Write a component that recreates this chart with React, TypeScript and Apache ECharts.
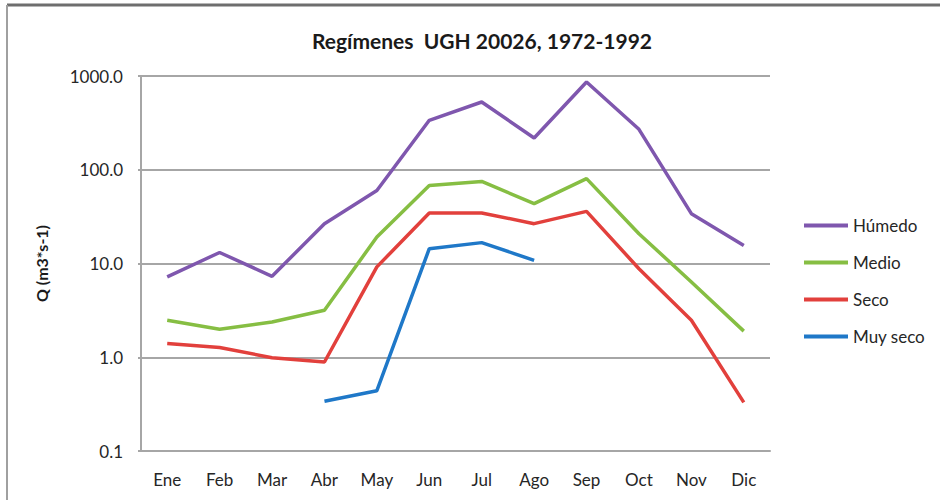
import React, { useEffect, useRef } from "react";
import * as echarts from "echarts";

const months = ["Ene", "Feb", "Mar", "Abr", "May", "Jun", "Jul", "Ago", "Sep", "Oct", "Nov", "Dic"];
const humedo = [7.2, 13.1, 7.3, 26.6, 60, 337, 528, 218, 863, 270, 34, 15.6];
const medio = [2.48, 1.99, 2.38, 3.17, 19.2, 68, 75, 43.5, 80.5, 20.8, 6.35, 1.9];
const seco = [1.4, 1.27, 0.99, 0.89, 9.2, 34.6, 34.6, 26.6, 36, 8.8, 2.48, 0.33];
const muySeco = [null, null, null, 0.34, 0.44, 14.4, 16.7, 10.8, null, null, null, null];
const seriesNames = ["Húmedo", "Medio", "Seco", "Muy seco"];
const colors = ["#7F57AE", "#86BE43", "#E2403C", "#1F78C8"];

const FONT = "Lato, 'Noto Sans', sans-serif";

export default function App() {
  const ref = useRef<HTMLDivElement>(null);
  useEffect(() => {
    if (!ref.current) return;
    const chart = echarts.init(ref.current, undefined, { renderer: "svg" });
    const dataSets = [humedo, medio, seco, muySeco];
    chart.setOption({
      animation: false,
      backgroundColor: "#ffffff",
      textStyle: { fontFamily: FONT },
      title: {
        text: "Regímenes  UGH 20026, 1972-1992",
        left: 477,
        top: 25,
        textAlign: "center",
        textStyle: { fontFamily: FONT, fontSize: 21, fontWeight: "bold", color: "#1a1a1a" },
      },
      graphic: [
        { type: "line", shape: { x1: 7, y1: 5, x2: 940, y2: 5 }, style: { stroke: "#6e6e6e", lineWidth: 3 } },
        { type: "line", shape: { x1: 7, y1: 5, x2: 7, y2: 500 }, style: { stroke: "#a0a0a0", lineWidth: 2 } },
      ],
      legend: {
        orient: "vertical",
        left: 799,
        top: 212,
        itemWidth: 44,
        itemHeight: 4,
        itemGap: 20,
        icon: "rect",
        data: seriesNames,
        textStyle: { fontFamily: FONT, fontSize: 17, color: "#262626", padding: [0, 0, 0, 0] },
      },
      grid: { left: 141, right: 170, top: 76, bottom: 49 },
      xAxis: {
        type: "category",
        data: months,
        boundaryGap: true,
        axisLine: { show: true, lineStyle: { color: "#a6a6a6", width: 2 } },
        axisTick: { show: false },
        axisLabel: { fontFamily: FONT, fontSize: 17, color: "#262626", margin: 20 },
      },
      yAxis: {
        type: "log",
        logBase: 10,
        min: 0.1,
        max: 1000,
        name: "Q (m3*s-1)",
        nameLocation: "middle",
        nameGap: 92,
        nameTextStyle: { fontFamily: FONT, fontSize: 16, fontWeight: "bold", color: "#1a1a1a" },
        axisLine: { show: true, lineStyle: { color: "#a6a6a6", width: 2 } },
        axisTick: { show: true, length: 3, lineStyle: { color: "#a6a6a6", width: 2 } },
        splitLine: { show: true, lineStyle: { color: "#a6a6a6", width: 2 } },
        axisLabel: {
          fontFamily: FONT,
          fontSize: 17,
          color: "#262626",
          margin: 18,
          formatter: (v: number) => Number(v).toFixed(1),
        },
      },
      series: dataSets.map((d, i) => ({
        name: seriesNames[i],
        type: "line",
        data: d,
        showSymbol: false,
        symbol: "none",
        connectNulls: false,
        lineStyle: { width: 3.5, color: colors[i] },
        itemStyle: { color: colors[i] },
      })),
    });
    return () => chart.dispose();
  }, []);
  return (
    <div
      ref={ref}
      style={{ position: "fixed", left: 0, top: 0, width: 940, height: 500 }}
    />
  );
}
